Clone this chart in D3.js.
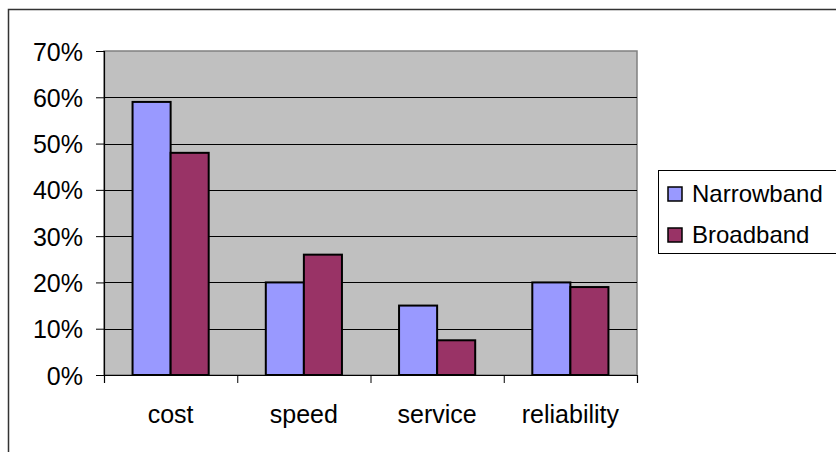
<!DOCTYPE html>
<html>
<head>
<meta charset="utf-8">
<script src="https://cdn.jsdelivr.net/npm/d3@7"></script>
<style>
  html, body { margin: 0; padding: 0; background: #fff; }
  svg { display: block; }
  text { font-family: "Liberation Sans", Arial, sans-serif; fill: #000; }
</style>
</head>
<body>
<svg id="chart" width="836" height="452"></svg>
<script>
// Reasons given, share of respondents per connection type
const categories = ["cost", "speed", "service", "reliability"];
const seriesNames = ["Narrowband", "Broadband"];
const narrowband = [0.59, 0.20, 0.15, 0.20];
const broadband = [0.48, 0.26, 0.075, 0.19];
const yTicks = [0, 0.1, 0.2, 0.3, 0.4, 0.5, 0.6, 0.7];
const colors = ["#9999FF", "#993366"];

const svg = d3.select("#chart");
const W = 836, H = 452;

// chart frame (runs off the right and bottom edges)
svg.append("rect")
  .attr("x", 8.5).attr("y", 9.5)
  .attr("width", W + 20).attr("height", H + 20)
  .attr("fill", "#fff").attr("stroke", "#333").attr("stroke-width", 1.5);

const plot = { left: 104, right: 637, top: 51, bottom: 375 };

const x0 = d3.scaleBand().domain(categories).range([plot.left, plot.right]).padding(0);
const x1 = d3.scaleBand().domain(seriesNames).range([0, x0.bandwidth()])
  .paddingInner(0).paddingOuter(0.75);
const y = d3.scaleLinear().domain([0, 0.7]).range([plot.bottom, plot.top]);

// plot area
svg.append("rect")
  .attr("x", plot.left).attr("y", plot.top)
  .attr("width", plot.right - plot.left).attr("height", plot.bottom - plot.top)
  .attr("fill", "#C0C0C0").attr("stroke", "#808080").attr("stroke-width", 1.5);

// gridlines
svg.append("g").selectAll("line")
  .data(yTicks.filter(t => t > 0 && t < 0.7))
  .join("line")
  .attr("x1", plot.left).attr("x2", plot.right)
  .attr("y1", d => Math.round(y(d)) + 0.5).attr("y2", d => Math.round(y(d)) + 0.5)
  .attr("stroke", "#000").attr("stroke-width", 1);

// bars
const rows = categories.map((c, i) => ({ cat: c, vals: [narrowband[i], broadband[i]] }));
const groups = svg.append("g").selectAll("g")
  .data(rows).join("g")
  .attr("transform", d => `translate(${x0(d.cat)},0)`);
groups.selectAll("rect")
  .data(d => d.vals.map((v, k) => ({ name: seriesNames[k], v, k })))
  .join("rect")
  .attr("x", d => x1(d.name))
  .attr("y", d => y(d.v))
  .attr("width", x1.bandwidth())
  .attr("height", d => y(0) - y(d.v))
  .attr("fill", d => colors[d.k])
  .attr("stroke", "#000").attr("stroke-width", 2);

// y axis
const yAxis = d3.axisLeft(y).tickValues(yTicks).tickFormat(d3.format(".0%"))
  .tickSize(8).tickPadding(13);
const gy = svg.append("g").attr("transform", `translate(${plot.left},0)`).call(yAxis);
gy.select(".domain").attr("stroke", "#000").attr("stroke-width", 1.2);
gy.selectAll(".tick line").attr("stroke", "#000");
gy.selectAll(".tick text")
  .attr("font-size", 25).attr("font-family", "Liberation Sans, Arial, sans-serif")
  .attr("dy", "0.36em");

// x axis: ticks on category boundaries, labels centred
const xb = d3.scaleLinear().domain([0, categories.length]).range([plot.left, plot.right]);
const gx = svg.append("g").attr("transform", `translate(0,${plot.bottom})`)
  .call(d3.axisBottom(xb).ticks(categories.length).tickFormat("").tickSize(8));
gx.select(".domain").attr("stroke", "#000").attr("stroke-width", 1.2);
gx.selectAll(".tick line").attr("stroke", "#000");
svg.append("g").selectAll("text")
  .data(categories).join("text")
  .attr("x", d => x0(d) + x0.bandwidth() / 2)
  .attr("y", 423)
  .attr("text-anchor", "middle")
  .attr("font-size", 25)
  .text(d => d);

// legend
const lg = svg.append("g");
lg.append("rect")
  .attr("x", 658.5).attr("y", 170.5).attr("width", 190).attr("height", 83)
  .attr("fill", "#fff").attr("stroke", "#000").attr("stroke-width", 1);
const items = lg.selectAll("g.item").data(seriesNames).join("g")
  .attr("class", "item")
  .attr("transform", (d, i) => `translate(668,${187 + i * 41})`);
items.append("rect")
  .attr("width", 14).attr("height", 14)
  .attr("fill", (d, i) => colors[i]).attr("stroke", "#000").attr("stroke-width", 1.5);
items.append("text")
  .attr("x", 24).attr("y", 14.5)
  .attr("font-size", 24)
  .text(d => d);
</script>
</body>
</html>
